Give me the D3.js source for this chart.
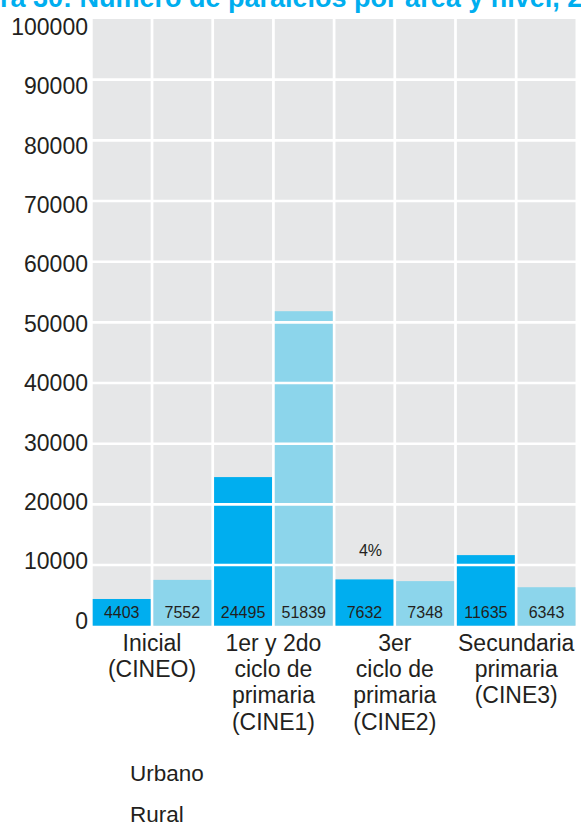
<!DOCTYPE html>
<html>
<head>
<meta charset="utf-8">
<script src="https://cdn.jsdelivr.net/npm/d3@7"></script>
<style>
  html, body { margin: 0; padding: 0; background: #fff; }
  svg { display: block; font-family: "Liberation Sans", Arial, Helvetica, sans-serif; }
</style>
</head>
<body>
<svg id="chart" width="581" height="826"></svg>
<script>
// ---- Data ----
const titleText = "Figura 30: Número de paralelos por área y nivel, 2016";
const categories = [
  ["Inicial", "(CINEO)"],
  ["1er y 2do", "ciclo de", "primaria", "(CINE1)"],
  ["3er", "ciclo de", "primaria", "(CINE2)"],
  ["Secundaria", "primaria", "(CINE3)"]
];
const seriesNames = ["Urbano", "Rural"];
const urbano = [4403, 24495, 7632, 11635];
const rural  = [7552, 51839, 7348, 6343];
const yTicks = [0, 10000, 20000, 30000, 40000, 50000, 60000, 70000, 80000, 90000, 100000];
const annotationText = "4%";
const annotationCategory = 2;

// ---- Setup ----
const svg = d3.select("#chart");
const colors = { Urbano: "#00AEEF", Rural: "#8CD5EB" };
const textColor = "#231F20";

const columns = [];
categories.forEach((c, i) => {
  columns.push({ key: i + "-Urbano", cat: i, series: "Urbano", value: urbano[i] });
  columns.push({ key: i + "-Rural", cat: i, series: "Rural", value: rural[i] });
});

const x = d3.scaleBand().domain(columns.map(d => d.key)).range([92.7, 575.5]).paddingInner(0.045).paddingOuter(0);
const y = d3.scaleLinear().domain([0, 100000]).range([625.7, 19]);
const yLabel = d3.scaleLinear().domain([0, 100000]).range([621, 27]);

// Title (partly cut off at top)
svg.append("text")
  .attr("x", -57).attr("y", 6.5)
  .attr("font-size", 27).attr("font-weight", "bold")
  .attr("fill", "#00AEEF")
  .text(titleText);

// Gray background columns
svg.append("g").selectAll("rect").data(columns).join("rect")
  .attr("x", d => x(d.key)).attr("width", x.bandwidth())
  .attr("y", y(100000)).attr("height", y(0) - y(100000))
  .attr("fill", "#E6E7E8");

// Bars
svg.append("g").selectAll("rect").data(columns).join("rect")
  .attr("x", d => x(d.key)).attr("width", x.bandwidth())
  .attr("y", d => y(d.value)).attr("height", d => y(0) - y(d.value))
  .attr("fill", d => colors[d.series]);

// White gridlines on top
svg.append("g").selectAll("line").data(yTicks.filter(t => t > 0 && t < 100000)).join("line")
  .attr("x1", 90).attr("x2", 581)
  .attr("y1", d => y(d)).attr("y2", d => y(d))
  .attr("stroke", "#fff").attr("stroke-width", 2.6);

// Y axis labels
const yAxis = d3.axisLeft(yLabel).tickValues(yTicks).tickSize(0).tickPadding(0).tickFormat(d3.format("d"));
const gy = svg.append("g").attr("transform", "translate(88,0)").call(yAxis);
gy.select(".domain").remove();
gy.selectAll("text").attr("font-size", 23).attr("fill", textColor)
  .attr("font-family", "'Liberation Sans', Arial, sans-serif");

// Bar value labels
svg.append("g").selectAll("text").data(columns).join("text")
  .attr("x", d => x(d.key) + x.bandwidth() / 2)
  .attr("y", y(0) - 7.5)
  .attr("text-anchor", "middle")
  .attr("font-size", 16).attr("fill", textColor)
  .text(d => d.value);

// Annotation
svg.append("text")
  .attr("x", x(annotationCategory + "-Urbano") + x.bandwidth() / 2 + 6)
  .attr("y", y(10000) - 9.5)
  .attr("text-anchor", "middle")
  .attr("font-size", 16).attr("fill", textColor)
  .text(annotationText);

// Category labels
const catG = svg.append("g").selectAll("text").data(categories).join("text")
  .attr("text-anchor", "middle")
  .attr("font-size", 23).attr("fill", textColor)
  .attr("transform", (d, i) => {
    const cx = (x(i + "-Urbano") + x(i + "-Rural") + x.bandwidth()) / 2;
    return `translate(${cx},650.5)`;
  });
catG.selectAll("tspan").data(d => d).join("tspan")
  .attr("x", 0).attr("dy", (d, j) => j === 0 ? 0 : 26.4)
  .text(d => d);

// Legend (text only)
svg.append("g").selectAll("text").data(seriesNames).join("text")
  .attr("x", 130).attr("y", (d, i) => 781 + i * 41)
  .attr("font-size", 22.5).attr("fill", textColor)
  .text(d => d);
</script>
</body>
</html>
